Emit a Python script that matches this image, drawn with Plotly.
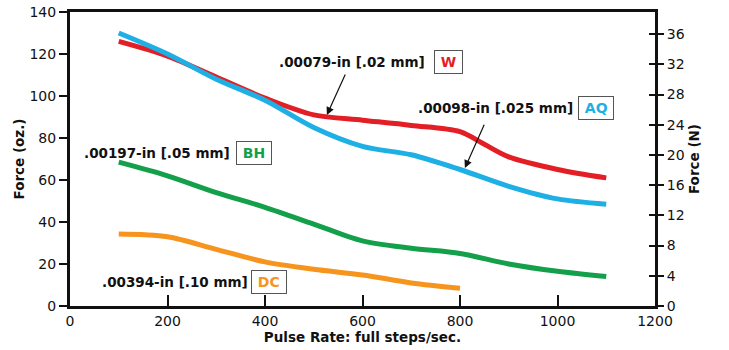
import plotly.graph_objects as go

# Data
w_x = [100, 200, 300, 400, 500, 600, 700, 800, 850, 900, 1000, 1100]
w_y = [126, 119, 109, 99, 91, 88.5, 86, 83, 77, 71, 65, 61]
aq_x = [100, 200, 300, 400, 500, 600, 700, 800, 900, 1000, 1100]
aq_y = [130, 120, 108, 98, 85, 76, 72, 65, 57, 51, 48.5]
bh_x = [100, 200, 300, 400, 500, 600, 700, 800, 900, 1000, 1100]
bh_y = [68.5, 62, 54, 47, 39, 31, 27.5, 25, 20, 16.5, 14]
dc_x = [100, 200, 300, 400, 500, 600, 700, 800]
dc_y = [34.3, 33, 27, 21, 17.5, 14.8, 11, 8.5]

x_ticks = [0, 200, 400, 600, 800, 1000, 1200]
y_ticks = [0, 20, 40, 60, 80, 100, 120, 140]
n_ticks = [0, 4, 8, 12, 16, 20, 24, 28, 32, 36]
OZ_TO_N = 0.278014

RED = "#e31e25"
BLUE = "#1eafe5"
GREEN = "#14a04a"
ORANGE = "#f7941d"

FAM = "DejaVu Sans, Liberation Sans, Arial, sans-serif"

fig = go.Figure()
for xs, ys, c in [(w_x, w_y, RED), (aq_x, aq_y, BLUE), (bh_x, bh_y, GREEN), (dc_x, dc_y, ORANGE)]:
    fig.add_trace(go.Scatter(x=xs, y=ys, mode="lines",
                             line=dict(color=c, width=5, shape="spline", smoothing=0.9),
                             showlegend=False, hoverinfo="skip"))
fig.add_trace(go.Scatter(x=[None], y=[None], yaxis="y2", showlegend=False))
fig.add_trace(go.Scatter(x=[None], y=[None], yaxis="y3", showlegend=False))

font_tick = dict(family=FAM, size=14, color="#111")
font_title = dict(family=FAM, size=13.5, color="#111")

fig.update_layout(
    width=729, height=350,
    margin=dict(l=70, r=74, t=12, b=44),
    paper_bgcolor="white", plot_bgcolor="white",
    xaxis=dict(range=[0, 1200], tickvals=x_ticks, ticks="inside", ticklen=11, tickwidth=2,
               tickcolor="#111", showline=True, linewidth=3, linecolor="#111", mirror=True,
               showgrid=False, zeroline=False, tickfont=font_tick, automargin=False,
               title=dict(text="<b>Pulse Rate: full steps/sec.</b>", font=font_title, standoff=3)),
    yaxis=dict(range=[0, 140], tickvals=y_ticks, ticks="outside", ticklen=8, tickwidth=2,
               tickcolor="#111", showline=True, linewidth=3, linecolor="#111",
               showgrid=False, zeroline=False, tickfont=font_tick, automargin=False,
               title=dict(text="<b>Force (oz.)</b>", font=font_title, standoff=2)),
    yaxis2=dict(range=[0, 140 * OZ_TO_N], tickvals=n_ticks, overlaying="y", side="right",
                ticks="outside", ticklen=6, tickwidth=2, tickcolor="#111",
                showline=True, linewidth=3, linecolor="#111", showgrid=False, zeroline=False,
                tickfont=font_tick, automargin=False,
                title=dict(text="<b>Force (N)</b>", font=font_title, standoff=6)),
    yaxis3=dict(range=[0, 140 * OZ_TO_N], tickvals=n_ticks, overlaying="y", side="right",
                ticks="inside", ticklen=6, tickwidth=2, tickcolor="#111", automargin=False,
                showline=False, showgrid=False, zeroline=False, showticklabels=False),
)

labels = [
    (".00079-in [.02 mm]", 732, 116, "W", 777, RED),
    (".00098-in [.025 mm]", 1036, 94.3, "AQ", 1079, BLUE),
    (".00197-in [.05 mm]", 332, 72.9, "BH", 377, GREEN),
    (".00394-in [.10 mm]", 369, 11.4, "DC", 408, ORANGE),
]
afont = dict(family=FAM, size=13.5, color="#111")
for txt, tx, ty, code, bx, col in labels:
    fig.add_annotation(x=tx, y=ty, xref="x", yref="y", text="<b>" + txt + "</b>",
                       showarrow=False, xanchor="right", yanchor="middle", font=afont)
    fig.add_annotation(x=bx, y=ty, xref="x", yref="y", text="<b>\u2009" + code + "\u2009</b>",
                       showarrow=False, xanchor="center", yanchor="middle",
                       font=dict(family=FAM, size=14, color=col),
                       bordercolor="#555", borderwidth=1, borderpad=3, bgcolor="white")

arrows = [(527, 91, 566, 111), (810, 65.7, 851, 87)]
for hx, hy, tx, ty in arrows:
    fig.add_annotation(x=hx, y=hy, ax=tx, ay=ty, xref="x", yref="y", axref="x", ayref="y",
                       text="", showarrow=True, arrowhead=2, arrowsize=1.3, arrowwidth=1.2,
                       arrowcolor="#111")

fig.write_html("out.html")
